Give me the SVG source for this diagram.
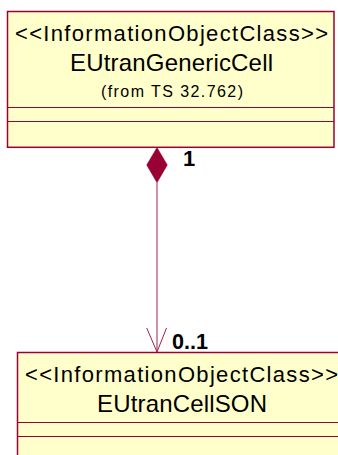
<svg xmlns="http://www.w3.org/2000/svg" width="338" height="455" viewBox="0 0 338 455">
<style>
.box{fill:#FFFFCC;stroke:#990033;stroke-width:1.5}
.div{stroke:#990033;stroke-width:1.2;fill:none}
.t{font-family:"Liberation Sans",Arial,sans-serif;fill:#000}
.st{font-size:22px}
.nm{font-size:24px}
.fr{font-size:16px}
.ml{font-family:"Liberation Sans",Arial,sans-serif;font-size:22px;font-weight:bold;fill:#000}
.conn{stroke:#A0204A;stroke-width:1;fill:none}
</style>
<rect width="338" height="455" fill="#ffffff"/>
<g id="EUtranGenericCell">
<rect class="box" x="7.5" y="11.5" width="326.5" height="135.8"/>
<line class="div" x1="7.5" y1="107.5" x2="334" y2="107.5"/>
<line class="div" x1="7.5" y1="121.5" x2="334" y2="121.5"/>
<text class="t st" x="15" y="40.5" textLength="313" lengthAdjust="spacing">&lt;&lt;InformationObjectClass&gt;&gt;</text>
<text class="t nm" x="70" y="71" textLength="203" lengthAdjust="spacing">EUtranGenericCell</text>
<text class="t fr" x="101" y="97" textLength="142" lengthAdjust="spacing">(from TS 32.762)</text>
</g>
<g id="EUtranCellSON">
<rect class="box" x="17.5" y="352.5" width="327" height="110"/>
<line class="div" x1="17.5" y1="422.5" x2="344" y2="422.5"/>
<line class="div" x1="17.5" y1="436.5" x2="344" y2="436.5"/>
<text class="t st" x="25" y="382" textLength="313" lengthAdjust="spacing">&lt;&lt;InformationObjectClass&gt;&gt;</text>
<text class="t nm" x="97" y="412" textLength="170" lengthAdjust="spacing">EUtranCellSON</text>
</g>
<g id="connectors">
<polygon points="157,147.5 167.3,165 157,182.7 146.7,165" fill="#990033" stroke="#990033" stroke-width="0.5"/>
<line class="conn" x1="157" y1="182.7" x2="157" y2="352"/>
<polyline class="conn" points="146.7,328 157,352 166.5,328"/>
<text class="ml" x="183" y="166">1</text>
<text class="ml" x="172" y="349" textLength="36" lengthAdjust="spacingAndGlyphs">0..1</text>
</g>
</svg>
